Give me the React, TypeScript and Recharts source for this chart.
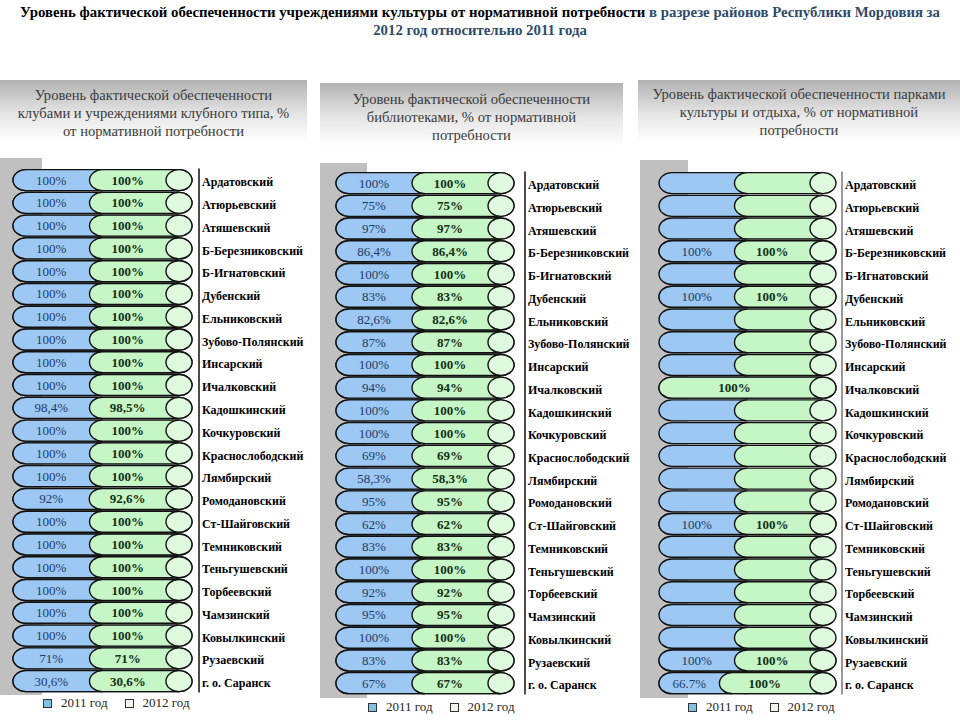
import React from "react";
import { BarChart, Bar, XAxis, YAxis, LabelList } from "recharts";

const districts = [
  "Ардатовский", "Атюрьевский", "Атяшевский", "Б-Березниковский", "Б-Игнатовский",
  "Дубенский", "Ельниковский", "Зубово-Полянский", "Инсарский", "Ичалковский",
  "Кадошкинский", "Кочкуровский", "Краснослободский", "Лямбирский", "Ромодановский",
  "Ст-Шайговский", "Темниковский", "Теньгушевский", "Торбеевский", "Чамзинский",
  "Ковылкинский", "Рузаевский", "г. о. Саранск",
];

const clubs2011 = [100, 100, 100, 100, 100, 100, 100, 100, 100, 100, 98.4, 100, 100, 100, 92, 100, 100, 100, 100, 100, 100, 71, 30.6];
const clubs2012 = [100, 100, 100, 100, 100, 100, 100, 100, 100, 100, 98.5, 100, 100, 100, 92.6, 100, 100, 100, 100, 100, 100, 71, 30.6];

const libs2011 = [100, 75, 97, 86.4, 100, 83, 82.6, 87, 100, 94, 100, 100, 69, 58.3, 95, 62, 83, 100, 92, 95, 100, 83, 67];
const libs2012 = [100, 75, 97, 86.4, 100, 83, 82.6, 87, 100, 94, 100, 100, 69, 58.3, 95, 62, 83, 100, 92, 95, 100, 83, 67];

const parks2011 = [null, null, null, 100, null, 100, null, null, null, null, null, null, null, null, null, 100, null, null, null, null, null, 100, 66.7];
const parks2012 = [null, null, null, 100, null, 100, null, null, null, 100, null, null, null, null, null, 100, null, null, null, null, null, 100, 100];

const mainTitleBlack = "Уровень фактической обеспеченности учреждениями культуры от нормативной потребности";
const mainTitleBlue = "в разрезе районов Республики Мордовия за";
const mainTitleLine2 = "2012 год относительно 2011 года";
const legendLabels = ["2011 год", "2012 год"];

const BLUE = "#9dc8f3";
const GREEN = "#c6f5c6";
const CAP = "#def9de";
const RX = 13;
const FONT = "Liberation Serif, DejaVu Serif, serif";

type Row = { name: string; y2011: number | null; y2012: number | null };

const rows = (a: (number | null)[], b: (number | null)[]): Row[] =>
  districts.map((name, i) => ({ name, y2011: a[i], y2012: b[i] }));

function Segment(props: any) {
  const { x, y, width, height, fill, withCap } = props;
  if (!width || width <= 0 || !isFinite(width)) return null;
  const ry = height / 2;
  const edge = `M${x + width},${y} L${x},${y} A${RX},${ry} 0 0 0 ${x},${y + height} L${x + width},${y + height}`;
  return (
    <g>
      <path d={edge + " Z"} fill={fill} />
      <path d={edge} fill="none" stroke="#111" strokeWidth={1.4} />
      {withCap && <ellipse cx={x + width} cy={y + ry} rx={RX} ry={ry} fill={CAP} stroke="#111" strokeWidth={1.4} />}
    </g>
  );
}

// empty two-tone cylinder for rows without data
function Track(props: any, padRight: number) {
  const { x, y, width, height } = props;
  const unit = width - padRight;
  return (
    <g>
      <Segment x={x} y={y} width={unit / 2} height={height} fill={BLUE} />
      <Segment x={x + unit / 2} y={y} width={unit / 2} height={height} fill={GREEN} withCap />
    </g>
  );
}

const valueLabel = (sep: string, color: string, bold: boolean) => (p: any) => {
  const box = p.viewBox && p.viewBox.width != null ? p.viewBox : p;
  const { x, y, width, height } = box;
  if (p.value == null || !width) return null;
  return (
    <text
      x={x + width / 2 - RX}
      y={y + height / 2 + 4.5}
      textAnchor="middle"
      fill={color}
      fontSize={13}
      fontWeight={bold ? "bold" : "normal"}
      fontFamily={FONT}
    >
      {String(p.value).replace(".", sep) + "%"}
    </text>
  );
};

type Panel = {
  title: string[];
  box: { left: number; top: number; width: number; pad: number };
  wall: { left: number; top: number; width: number; height: number };
  chartLeft: number;
  chartWidth: number;
  marginLeft: number;
  marginTop: number;
  marginBottom: number;
  padRight: number;
  axisWidth: number;
  axisColor: string;
  legendLeft: number;
  legendTop: number;
  sep: string;
  data: Row[];
};

const panels: Panel[] = [
  {
    title: ["Уровень фактической обеспеченности", "клубами и учреждениями клубного типа, %", "от нормативной потребности"],
    box: { left: 0, top: 80, width: 307, pad: 6 },
    wall: { left: 0, top: 158, width: 42, height: 537 },
    chartLeft: 0, chartWidth: 310, marginLeft: 26, marginTop: 168.6, marginBottom: 27.6,
    padRight: 20, axisWidth: 111, axisColor: "#111",
    legendLeft: 43, legendTop: 695, sep: ",",
    data: rows(clubs2011, clubs2012),
  },
  {
    title: ["Уровень фактической обеспеченности", "библиотеками, % от нормативной", "потребности"],
    box: { left: 320, top: 83, width: 303, pad: 7 },
    wall: { left: 320, top: 163, width: 47, height: 535 },
    chartLeft: 320, chartWidth: 320, marginLeft: 29, marginTop: 171.6, marginBottom: 25.6,
    padRight: 24, axisWidth: 115, axisColor: "#111",
    legendLeft: 368, legendTop: 699, sep: ",",
    data: rows(libs2011, libs2012),
  },
  {
    title: ["Уровень фактической обеспеченности парками", "культуры и отдыха, % от нормативной", "потребности"],
    box: { left: 638, top: 80, width: 322, pad: 5 },
    wall: { left: 640, top: 160, width: 48, height: 538 },
    chartLeft: 640, chartWidth: 320, marginLeft: 32, marginTop: 171.6, marginBottom: 25.6,
    padRight: 19, axisWidth: 118, axisColor: "#777",
    legendLeft: 688, legendTop: 699, sep: ".",
    data: rows(parks2011, parks2012),
  },
];

function PanelChart({ p }: { p: Panel }) {
  return (
    <>
      <div
        style={{
          position: "absolute", left: p.box.left, top: p.box.top, width: p.box.width, height: 63,
          background: "linear-gradient(to bottom, #b2b2b2 0%, #e6e6e6 55%, #ffffff 100%)",
          boxSizing: "border-box", paddingTop: p.box.pad, textAlign: "center",
          fontSize: 14.6, lineHeight: "18px", color: "#3a3a3a", whiteSpace: "nowrap",
        }}
      >
        {p.title.map((t) => (
          <div key={t}>{t}</div>
        ))}
      </div>
      <div style={{ position: "absolute", left: p.wall.left, top: p.wall.top, width: p.wall.width, height: p.wall.height, background: "#c0c0c0" }} />
      <div style={{ position: "absolute", left: p.chartLeft, top: 0 }}>
        <BarChart
          width={p.chartWidth}
          height={720}
          data={p.data}
          layout="vertical"
          stackOffset="expand"
          barSize={21}
          margin={{ top: p.marginTop, right: 0, bottom: p.marginBottom, left: p.marginLeft }}
          style={{ fontFamily: FONT }}
        >
          <XAxis type="number" hide domain={[0, 1]} padding={{ left: 0, right: p.padRight }} />
          <YAxis
            type="category"
            dataKey="name"
            orientation="right"
            width={p.axisWidth}
            interval={0}
            tickLine={false}
            tickSize={0}
            tickMargin={3}
            axisLine={{ stroke: p.axisColor, strokeWidth: 1.5 }}
            tick={{ fill: "#000", fontSize: 12, fontWeight: "bold", fontFamily: FONT, dy: 2 }}
          />
          <Bar
            dataKey="y2011"
            name={legendLabels[0]}
            stackId="s"
            fill={BLUE}
            isAnimationActive={false}
            background={(bg: any) => Track(bg, p.padRight)}
            shape={(s: any) => <Segment {...s} fill={BLUE} />}
          >
            <LabelList dataKey="y2011" content={valueLabel(p.sep, "#1c3a66", false)} />
          </Bar>
          <Bar
            dataKey="y2012"
            name={legendLabels[1]}
            stackId="s"
            fill={GREEN}
            isAnimationActive={false}
            shape={(s: any) => <Segment {...s} fill={GREEN} withCap />}
          >
            <LabelList dataKey="y2012" content={valueLabel(p.sep, "#123012", true)} />
          </Bar>
        </BarChart>
      </div>
      <div style={{ position: "absolute", left: p.legendLeft, top: p.legendTop, display: "flex", alignItems: "center", fontSize: 13, color: "#222" }}>
        <span style={{ width: 7, height: 7, border: "1px solid #333", background: "#7fc1e2", marginRight: 9 }} />
        <span style={{ marginRight: 17 }}>{legendLabels[0]}</span>
        <span style={{ width: 7, height: 7, border: "1px solid #333", background: "#eff8ea", marginRight: 9 }} />
        <span>{legendLabels[1]}</span>
      </div>
    </>
  );
}

export default function App() {
  return (
    <div style={{ position: "absolute", left: 0, top: 0, width: 960, height: 720, background: "#fff", fontFamily: FONT, overflow: "hidden" }}>
      <div style={{ position: "absolute", left: 0, top: 3, width: 960, textAlign: "center", fontSize: 14.8, lineHeight: "18px", fontWeight: "bold", whiteSpace: "nowrap" }}>
        <span style={{ color: "#000" }}>{mainTitleBlack}</span>{" "}
        <span style={{ color: "#2e4b6c" }}>{mainTitleBlue}</span>
        <br />
        <span style={{ color: "#2e4b6c" }}>{mainTitleLine2}</span>
      </div>
      {panels.map((p, i) => (
        <PanelChart key={i} p={p} />
      ))}
    </div>
  );
}
